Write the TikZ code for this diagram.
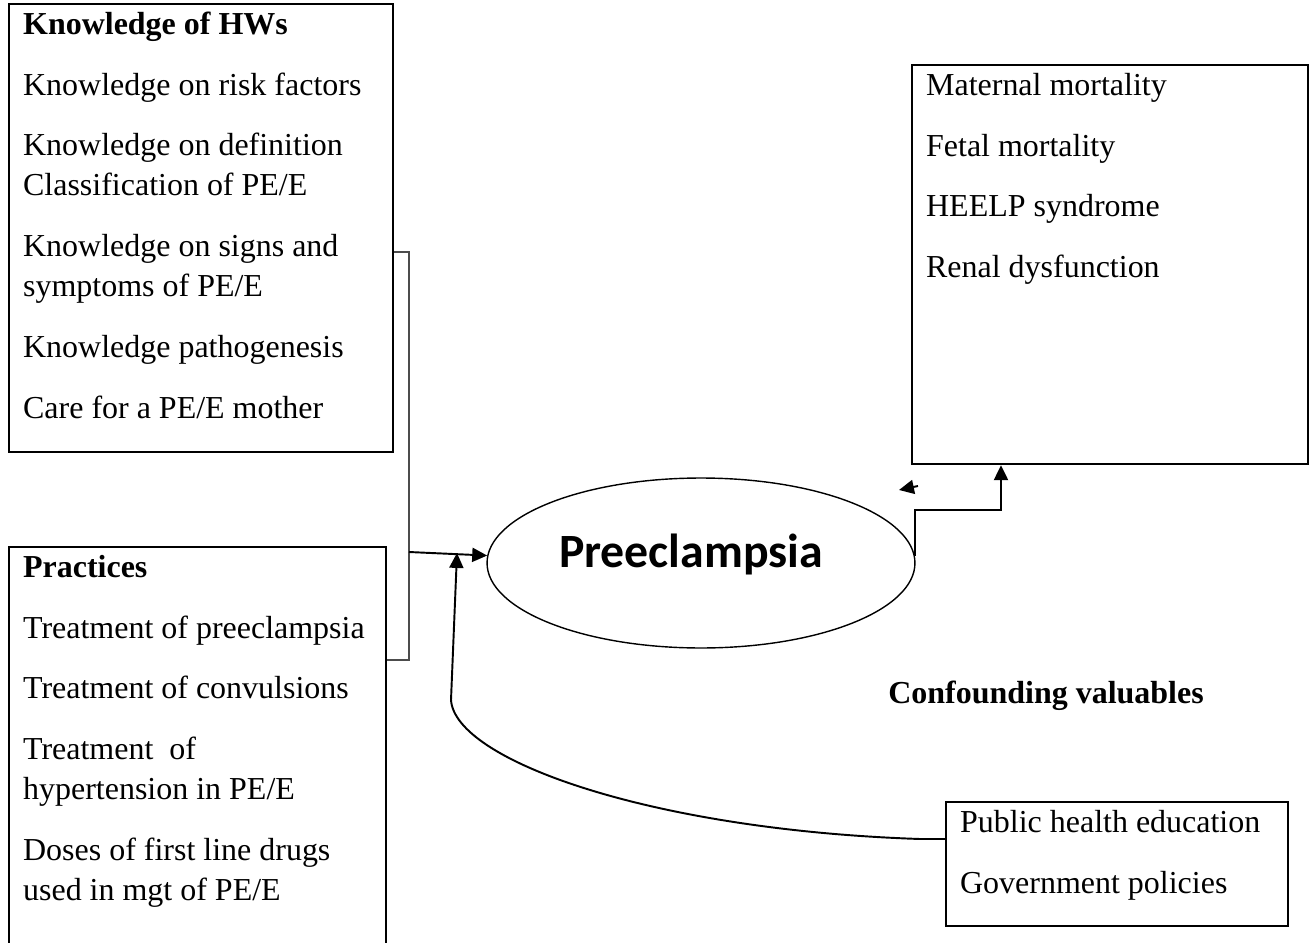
\documentclass[tikz,border=0pt]{standalone}
\usepackage{fontspec}
\setmainfont{Liberation Serif}
\newfontfamily\calfont{Carlito}
\usepackage{tikz}
\usetikzlibrary{arrows.meta,shapes.geometric,calc}

\newcommand{\boxtext}[3]{\parbox[c][#1][t]{#2}{\raggedright\leftskip=0.28cm\rule{0pt}{0.6cm}#3}}
\newcommand{\itgap}{\\[0.42cm]}

\begin{document}
\begin{tikzpicture}[x=0.02cm,y=-0.02cm,
  bx/.style={draw,line width=1.3pt,inner sep=0pt,anchor=north west,
    font=\fontsize{18.2pt}{22.7pt}\selectfont},
  ar/.style={-{Triangle[length=8.5pt,width=8pt]},line width=1.1pt},
  br/.style={draw=black!70,line width=1pt}
]
\useasboundingbox (0,0) rectangle (1309,943);

% input boxes
\node[bx] (K) at (8,3) {\boxtext{8.96cm}{7.68cm}{\textbf{Knowledge of HWs}\itgap
  Knowledge on risk factors\itgap
  Knowledge on definition\\Classification of PE/E\itgap
  Knowledge on signs and\\symptoms of PE/E\itgap
  Knowledge pathogenesis\itgap
  Care for a PE/E mother}};
\node[bx] (P) at (8,546) {\boxtext{8.2cm}{7.54cm}{\textbf{Practices}\itgap
  Treatment of preeclampsia\itgap
  Treatment of convulsions\itgap
  Treatment\ \ of\\hypertension in PE/E\itgap
  Doses of first line drugs\\used in mgt of PE/E}};

% outcome and confounders
\node[bx] (out) at (911,64) {\boxtext{7.98cm}{7.92cm}{Maternal mortality\itgap
  Fetal mortality\itgap
  HEELP syndrome\itgap
  Renal dysfunction}};
\node[bx] (pub) at (945,801) {\boxtext{2.48cm}{6.84cm}{Public health education\itgap
  Government policies}};
\node[anchor=base west,inner sep=0pt,font=\bfseries\fontsize{18.2pt}{22.7pt}\selectfont]
  (conf) at (888,703) {Confounding valuables};

\node[draw,ellipse,line width=0.8pt,minimum width=8.56cm,minimum height=3.4cm,inner sep=0pt,
  font=\calfont\bfseries\fontsize{27.2pt}{30pt}\selectfont] (pre) at (701,563)
  {\rule[-0.5cm]{0pt}{0pt}Preeclampsia\hspace*{0.4cm}};

% bracket joining the two input boxes
\coordinate (b1) at (409,252);
\coordinate (b2) at (409,660);
\coordinate (bm) at (409,552);
\draw[br] (K.east |- b1) -- (b1) -- (b2) -- (P.east |- b2);
\draw[ar] (bm) -- (pre.178);

% step to outcomes
\coordinate (st) at (1001,510);
\draw[ar] (pre.2) |- (st) -- (st |- out.south);

% loose arrowhead
\coordinate (sa) at (918,486);
\coordinate (sb) at (899,490);
\draw[ar] (sa) -- (sb);

% confounders curve
\coordinate (cb) at (920,839);
\coordinate (ctip) at (457,553);
\draw[ar] (pub.west |- cb) -- (cb) .. controls (650,830) and (455,760) .. (451,700) -- (ctip);
\end{tikzpicture}
\end{document}
